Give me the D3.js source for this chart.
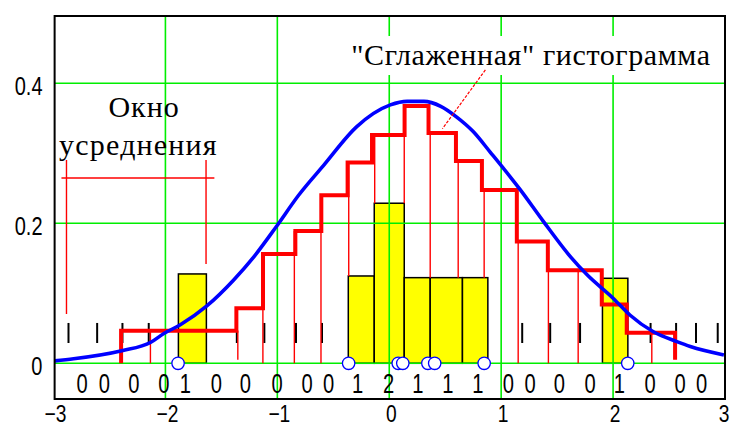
<!DOCTYPE html>
<html><head><meta charset="utf-8">
<script src="https://cdn.jsdelivr.net/npm/d3@7"></script>
<style>html,body{margin:0;padding:0;background:#fff;}svg{display:block;}</style>
</head><body><svg id="c" width="732" height="428"></svg>
<script>
// ---- data ----
const xTicks = [-3, -2, -1, 0, 1, 2, 3];
const yTicks = [0, 0.2, 0.4];
const gridX = [-2, -1, 0, 1, 2];
const gridY = [0, 0.2, 0.4];

const samplePoints = [-1.887, -0.363, 0.080, 0.121, 0.345, 0.406, 0.848, 2.131];

const barLeft   = [-1.884, -0.366, -0.134, 0.134, 0.366, 0.654, 1.905];
const barRight  = [-1.634, -0.134,  0.134, 0.366, 0.654, 0.881, 2.132];
const barHeight = [0.1276, 0.1247, 0.2286, 0.1223, 0.1223, 0.1223, 0.1214];

const stepEdges  = [-2.396, -1.366, -1.128, -0.839, -0.607, -0.372, -0.154, 0.137, 0.351, 0.596, 0.828, 1.140, 1.417, 1.899, 2.122, 2.554];
const stepLevels = [0.0466, 0.0786, 0.156, 0.189, 0.240, 0.2866, 0.326, 0.3676, 0.329, 0.289, 0.2476, 0.174, 0.133, 0.084, 0.0437];
const stepEndLevel = 0.005;

const stemX      = [-2.134, -1.353, -1.129, -0.848, -0.610, -0.362, -0.130, 0.134, 0.366, 0.616, 0.848, 1.152, 1.422, 1.688, 2.346];
const stemTop    = [0.0466, 0.047, 0.156, 0.189, 0.240, 0.2866, 0.326, 0.3676, 0.329, 0.289, 0.2476, 0.174, 0.133, 0.133, 0.0437];
const stemBottom = [0, 0.005, 0, 0, 0, 0.1247, 0.2286, 0.2286, 0.1223, 0.1223, 0.1223, 0, 0, 0, 0];

const markX = [-2.866, -2.610, -2.384, -2.149, -1.362, -1.116, -0.833, -0.601, 1.188, 1.438, 1.705, 2.335, 2.563, 2.741, 2.935];
const markRange = [0.029, 0.0576];

const countX = [-2.744, -2.545, -2.283, -2.015, -1.821, -1.545, -1.286, -1.003, -0.735, -0.542, -0.283, -0.006, 0.256, 0.524, 0.792, 1.065, 1.259, 1.521, 1.795, 2.056, 2.330, 2.598, 2.792];
const counts = [0, 0, 0, 0, 1, 0, 0, 0, 0, 0, 1, 2, 1, 1, 1, 0, 0, 0, 0, 1, 0, 0, 0];

const curveX = [-2.99, -2.82, -2.39, -2.13, -2.01, -1.87, -1.63, -1.39, -1.21, -1.01, -0.81, -0.59, -0.29, 0.01, 0.16, 0.31, 0.46, 0.60, 0.75, 0.90, 1.17, 1.38, 1.62, 1.77, 2.00, 2.15, 2.36, 2.57, 2.69, 2.99];
const curveY = [0.0035, 0.0065, 0.018, 0.030, 0.0429, 0.0547, 0.0819, 0.119, 0.152, 0.195, 0.240, 0.282, 0.338, 0.369, 0.374, 0.374, 0.367, 0.352, 0.331, 0.302, 0.248, 0.202, 0.152, 0.126, 0.093, 0.069, 0.045, 0.031, 0.024, 0.012];

const windowX = [-2.884, -1.637];
const windowTop = 0.2904;
const windowBottom = [0.0704, 0.1419];
const windowBarY = 0.2647;
const windowBarX = [-2.929, -1.5625];

const leaderFrom = [0.859, 0.419];
const leaderTo = [0.475, 0.335];

const labelSmooth = "\"Сглаженная\" гистограмма";
const labelWin1 = "Окно";
const labelWin2 = "усреднения";

// ---- scales ----
const svg = d3.select("#c");
const x = d3.scaleLinear().domain([-3, 3]).range([53.5, 725]);
const y = d3.scaleLinear().domain([-0.051, 0.496]).range([399, 16]);
const X0 = -2.99, X1 = 3, Y0 = -0.051, Y1 = 0.496;

const GREEN = "#00ee00";
const serif = "'Liberation Serif','Times New Roman',serif";
const sans = "'Liberation Sans',Arial,sans-serif";

// bars
svg.append("g").selectAll("rect").data(barLeft).join("rect")
  .attr("x", (d) => x(d))
  .attr("y", (d, i) => y(barHeight[i]))
  .attr("width", (d, i) => x(barRight[i]) - x(d))
  .attr("height", (d, i) => y(0) - y(barHeight[i]))
  .attr("fill", "#ffff00").attr("stroke", "#000").attr("stroke-width", 1.5);

// grid
const g = svg.append("g").attr("stroke", GREEN).attr("stroke-width", 1.6);
g.selectAll("line.v").data(gridX).join("line").attr("class", "v")
  .attr("x1", d => x(d)).attr("x2", d => x(d)).attr("y1", y(Y0)).attr("y2", y(Y1));
g.selectAll("line.h").data(gridY).join("line").attr("class", "h")
  .attr("y1", d => y(d)).attr("y2", d => y(d)).attr("x1", x(X0)).attr("x2", x(X1));

// white box behind smoothed label + label
const boxG = svg.append("g");
const lbl = svg.append("text").text(labelSmooth)
  .attr("x", x(-0.34)).attr("y", y(0.426))
  .attr("font-family", serif).attr("letter-spacing", 0.6)
  .attr("font-size", 30).attr("fill", "#000");
const bb = lbl.node().getBBox();
boxG.append("rect").attr("x", bb.x - 5).attr("y", bb.y - 2).attr("width", bb.width + 10).attr("height", bb.height + 6).attr("fill", "#fff");

// black marks
svg.append("g").selectAll("line").data(markX).join("line")
  .attr("x1", d => x(d)).attr("x2", d => x(d))
  .attr("y1", y(markRange[0])).attr("y2", y(markRange[1]))
  .attr("stroke", "#000").attr("stroke-width", 2);

// thin red stems
svg.append("g").selectAll("line").data(stemX).join("line")
  .attr("x1", d => x(d)).attr("x2", d => x(d))
  .attr("y1", (d, i) => y(stemTop[i])).attr("y2", (d, i) => y(stemBottom[i]))
  .attr("stroke", "#ff0000").attr("stroke-width", 1.4);

// averaging window indicator
const wg = svg.append("g").attr("stroke", "#ff0000").attr("stroke-width", 1.4);
wg.selectAll("line.wv").data(windowX).join("line").attr("class", "wv")
  .attr("x1", d => x(d)).attr("x2", d => x(d))
  .attr("y1", y(windowTop)).attr("y2", (d, i) => y(windowBottom[i]));
wg.append("line").attr("x1", x(windowBarX[0])).attr("x2", x(windowBarX[1]))
  .attr("y1", y(windowBarY)).attr("y2", y(windowBarY));

// thick step function
const stepPts = [[stepEdges[0], 0]];
stepLevels.forEach((lv, i) => { stepPts.push([stepEdges[i], lv]); stepPts.push([stepEdges[i + 1], lv]); });
stepPts.push([stepEdges[stepEdges.length - 1], stepEndLevel]);
svg.append("path").datum(stepPts)
  .attr("d", d3.line().x(d => x(d[0])).y(d => y(d[1])))
  .attr("fill", "none").attr("stroke", "#ff0000").attr("stroke-width", 4).attr("stroke-linejoin", "miter");

// blue curve
svg.append("path").datum(curveX.map((d, i) => [d, curveY[i]]))
  .attr("d", d3.line().x(d => x(d[0])).y(d => y(d[1])).curve(d3.curveMonotoneX))
  .attr("fill", "none").attr("stroke", "#0000ff").attr("stroke-width", 3.6);

// leader line
svg.append("line")
  .attr("x1", x(leaderFrom[0])).attr("y1", y(leaderFrom[1]))
  .attr("x2", x(leaderTo[0])).attr("y2", y(leaderTo[1]))
  .attr("stroke", "#ff0000").attr("stroke-width", 1.2).attr("stroke-dasharray", "3,1.5");

// sample circles
svg.append("g").selectAll("circle").data(samplePoints).join("circle")
  .attr("cx", d => x(d)).attr("cy", y(0)).attr("r", 6.2)
  .attr("fill", "#fff").attr("stroke", "#0000ff").attr("stroke-width", 1.3);

// window label
svg.append("text").text(labelWin1).attr("x", x(-2.509)).attr("y", y(0.352))
  .attr("font-family", serif).attr("font-size", 30).attr("letter-spacing", 1);
svg.append("text").text(labelWin2).attr("x", x(-2.95)).attr("y", y(0.297))
  .attr("font-family", serif).attr("font-size", 30).attr("letter-spacing", 1.2);

// counts row
svg.append("g").selectAll("text").data(counts).join("text")
  .text(d => d)
  .attr("transform", (d, i) => `translate(${x(countX[i])},${y(-0.0423)}) scale(0.72,1)`)
  .attr("text-anchor", "middle").attr("font-family", sans).attr("font-size", 28);

// frame
svg.append("rect").attr("x", x(X0)).attr("y", y(Y1)).attr("width", x(X1) - x(X0)).attr("height", y(Y0) - y(Y1))
  .attr("fill", "none").attr("stroke", "#000").attr("stroke-width", 2);

// axis labels
const fmtY = d => d === 0 ? "0" : d3.format(".1f")(d);
svg.append("g").selectAll("text").data(yTicks).join("text")
  .text(fmtY)
  .attr("transform", d => `translate(${x(-3) - 11},${y(d) + 11.5}) scale(0.8,1)`)
  .attr("text-anchor", "end").attr("font-family", sans).attr("font-size", 25);
svg.append("g").selectAll("text").data(xTicks).join("text")
  .text(d => d < 0 ? "\u2212" + Math.abs(d) : String(d))
  .attr("transform", d => `translate(${Math.min(x(d) + 2, 724)},${y(Y0) + 23}) scale(0.8,1)`)
  .attr("text-anchor", "middle").attr("font-family", sans).attr("font-size", 24);
</script></body></html>
